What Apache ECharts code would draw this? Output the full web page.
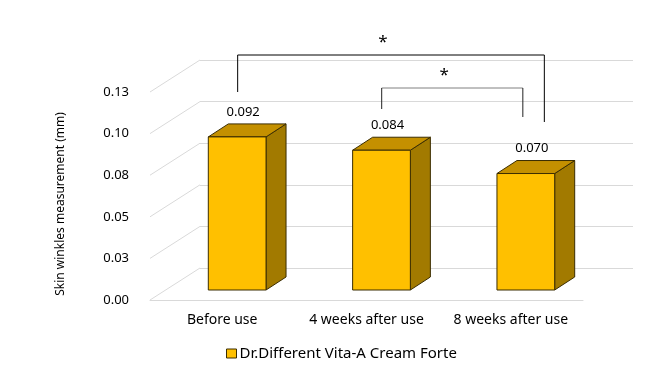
<!DOCTYPE html>
<html>
<head>
<meta charset="utf-8">
<script src="https://cdn.jsdelivr.net/npm/echarts@6/dist/echarts.min.js"></script>
<style>html,body{margin:0;padding:0;background:#fff;}#c{width:663px;height:384px;}</style>
</head>
<body>
<div id="c"></div>
<script>
// ---- data ----
const categories = ['Before use', '4 weeks after use', '8 weeks after use'];
const seriesName = 'Dr.Different Vita-A Cream Forte';
const values = [0.092, 0.084, 0.070];
const valueLabels = ['0.092', '0.084', '0.070'];
const yTicks = [0, 0.025, 0.05, 0.075, 0.1, 0.125];
const yTickLabels = ['0.00', '0.03', '0.05', '0.08', '0.10', '0.13'];
const yTitle = 'Skin winkles measurement (mm)';
const comparisons = [[0, 2], [1, 2]];
const comparisonMarks = ['*', '*'];

// ---- layout / style ----
const FONT = 'Noto Sans';
const BACK_DX = 50, BACK_DY = -32;      // back wall offset
const BAR_SHIFT_X = 15, BAR_SHIFT_Y = -10; // bar plane offset from front
const DEPTH_X = 20, DEPTH_Y = -13;      // bar depth
const FRONT = '#FFC000', TOP = '#C49000', SIDE = '#A27A00', EDGE = '#3b2d00';
const bracketLayout = [
  {top: 55, leftEnd: 92, rightEnd: 122, dxL: 15.5, dxR: 33.5, color: '#000', hColor: '#000'},
  {top: 88, leftEnd: 109, rightEnd: 117, dxL: 15.2, dxR: 12, color: '#222', hColor: '#808080'}
];

const chart = echarts.init(document.getElementById('c'), null, {renderer: 'canvas'});

const option = {
  animation: false,
  textStyle: {fontFamily: FONT},
  grid: [
    {left: 150, top: 92, width: 433, height: 208},
    {left: 150 + BACK_DX, top: 92 + BACK_DY, width: 433, height: 208}
  ],
  xAxis: [
    {type: 'category', gridIndex: 0, data: categories,
     axisLine: {show: true, lineStyle: {color: '#d9d9d9', width: 1}},
     axisTick: {show: false},
     axisLabel: {color: '#000', fontSize: 14, fontFamily: FONT, margin: 13, interval: 0, hideOverlap: false}},
    {type: 'category', gridIndex: 1, data: categories, show: false}
  ],
  yAxis: [
    {type: 'value', gridIndex: 0, min: 0, max: 0.125, interval: 0.025,
     axisLine: {show: false}, axisTick: {show: false}, splitLine: {show: false},
     axisLabel: {color: '#000', fontSize: 13, fontFamily: FONT, margin: 21,
       formatter: (v, i) => yTickLabels[i]}},
    {type: 'value', gridIndex: 1, min: 0, max: 0.125, interval: 0.025,
     axisLine: {show: false}, axisTick: {show: false}, axisLabel: {show: false},
     splitLine: {show: true, lineStyle: {color: '#d9d9d9', width: 1}}}
  ],
  graphic: [
    {type: 'text', x: 61, y: 204, rotation: Math.PI / 2,
     style: {text: yTitle, fill: '#000', font: '12px ' + FONT, align: 'center', verticalAlign: 'middle'}}
  ],
  legend: {
    left: 221, top: 341, itemWidth: 10, itemHeight: 9, itemGap: 4,
    icon: 'rect',
    textStyle: {color: '#000', fontSize: 15, fontFamily: FONT, padding: [0, 0, 0, -2]},
    itemStyle: {color: FRONT, borderColor: EDGE, borderWidth: 1},
    data: [seriesName]
  },
  series: [
    { // diagonal floor/wall lines
      type: 'custom', xAxisIndex: 0, yAxisIndex: 0, silent: true,
      data: yTicks.map(v => [0, v]),
      renderItem: (params, api) => {
        const y = api.coord([0, api.value(1)])[1];
        const x = params.coordSys.x;
        return {type: 'line', shape: {x1: x, y1: y, x2: x + BACK_DX, y2: y + BACK_DY},
                style: {stroke: '#d9d9d9', lineWidth: 1}};
      }
    },
    { // 3D bars
      type: 'custom', name: seriesName, xAxisIndex: 0, yAxisIndex: 0,
      itemStyle: {color: FRONT},
      data: values.map((v, i) => [i, v]),
      renderItem: (params, api) => {
        const i = api.value(0), v = api.value(1);
        const base = api.coord([i, 0]);
        const topP = api.coord([i, v]);
        const w = api.size([1, 0])[0] * 0.4;
        const cx = base[0] + BAR_SHIFT_X;
        const x0 = cx - w / 2, x1 = cx + w / 2;
        const yb = base[1] + BAR_SHIFT_Y, yt = topP[1] + BAR_SHIFT_Y;
        const st = (c) => ({fill: c, stroke: EDGE, lineWidth: 1, lineJoin: 'round'});
        return {type: 'group', children: [
          {type: 'polygon', shape: {points: [[x1, yt], [x1 + DEPTH_X, yt + DEPTH_Y], [x1 + DEPTH_X, yb + DEPTH_Y], [x1, yb]]}, style: st(SIDE)},
          {type: 'polygon', shape: {points: [[x0, yt], [x1, yt], [x1 + DEPTH_X, yt + DEPTH_Y], [x0 + DEPTH_X, yt + DEPTH_Y]]}, style: st(TOP)},
          {type: 'rect', shape: {x: x0, y: yt, width: w, height: yb - yt}, style: st(FRONT)},
          {type: 'text', x: cx + 6, y: yt + DEPTH_Y - 12,
           style: {text: valueLabels[params.dataIndex], fill: '#000', font: '13px ' + FONT, align: 'center', verticalAlign: 'middle'}}
        ]};
      }
    },
    { // significance brackets
      type: 'custom', xAxisIndex: 0, yAxisIndex: 0, silent: true,
      data: comparisons,
      renderItem: (params, api) => {
        const L = bracketLayout[params.dataIndex];
        const xa = api.coord([api.value(0), 0])[0] + L.dxL;
        const xb = api.coord([api.value(1), 0])[0] + L.dxR;
        return {type: 'group', children: [
          {type: 'line', shape: {x1: xa, y1: L.top, x2: xb, y2: L.top}, style: {stroke: L.hColor, lineWidth: 1}},
          {type: 'line', shape: {x1: xa, y1: L.top, x2: xa, y2: L.leftEnd}, style: {stroke: L.color, lineWidth: 1}},
          {type: 'line', shape: {x1: xb, y1: L.top, x2: xb, y2: L.rightEnd}, style: {stroke: L.color, lineWidth: 1}},
          {type: 'text', x: (xa + xb) / 2 - 8, y: L.top - 13,
           style: {text: comparisonMarks[params.dataIndex], fill: '#000', font: '17px ' + FONT, align: 'center', verticalAlign: 'middle'}}
        ]};
      }
    }
  ]
};
chart.setOption(option);
</script>
</body>
</html>
